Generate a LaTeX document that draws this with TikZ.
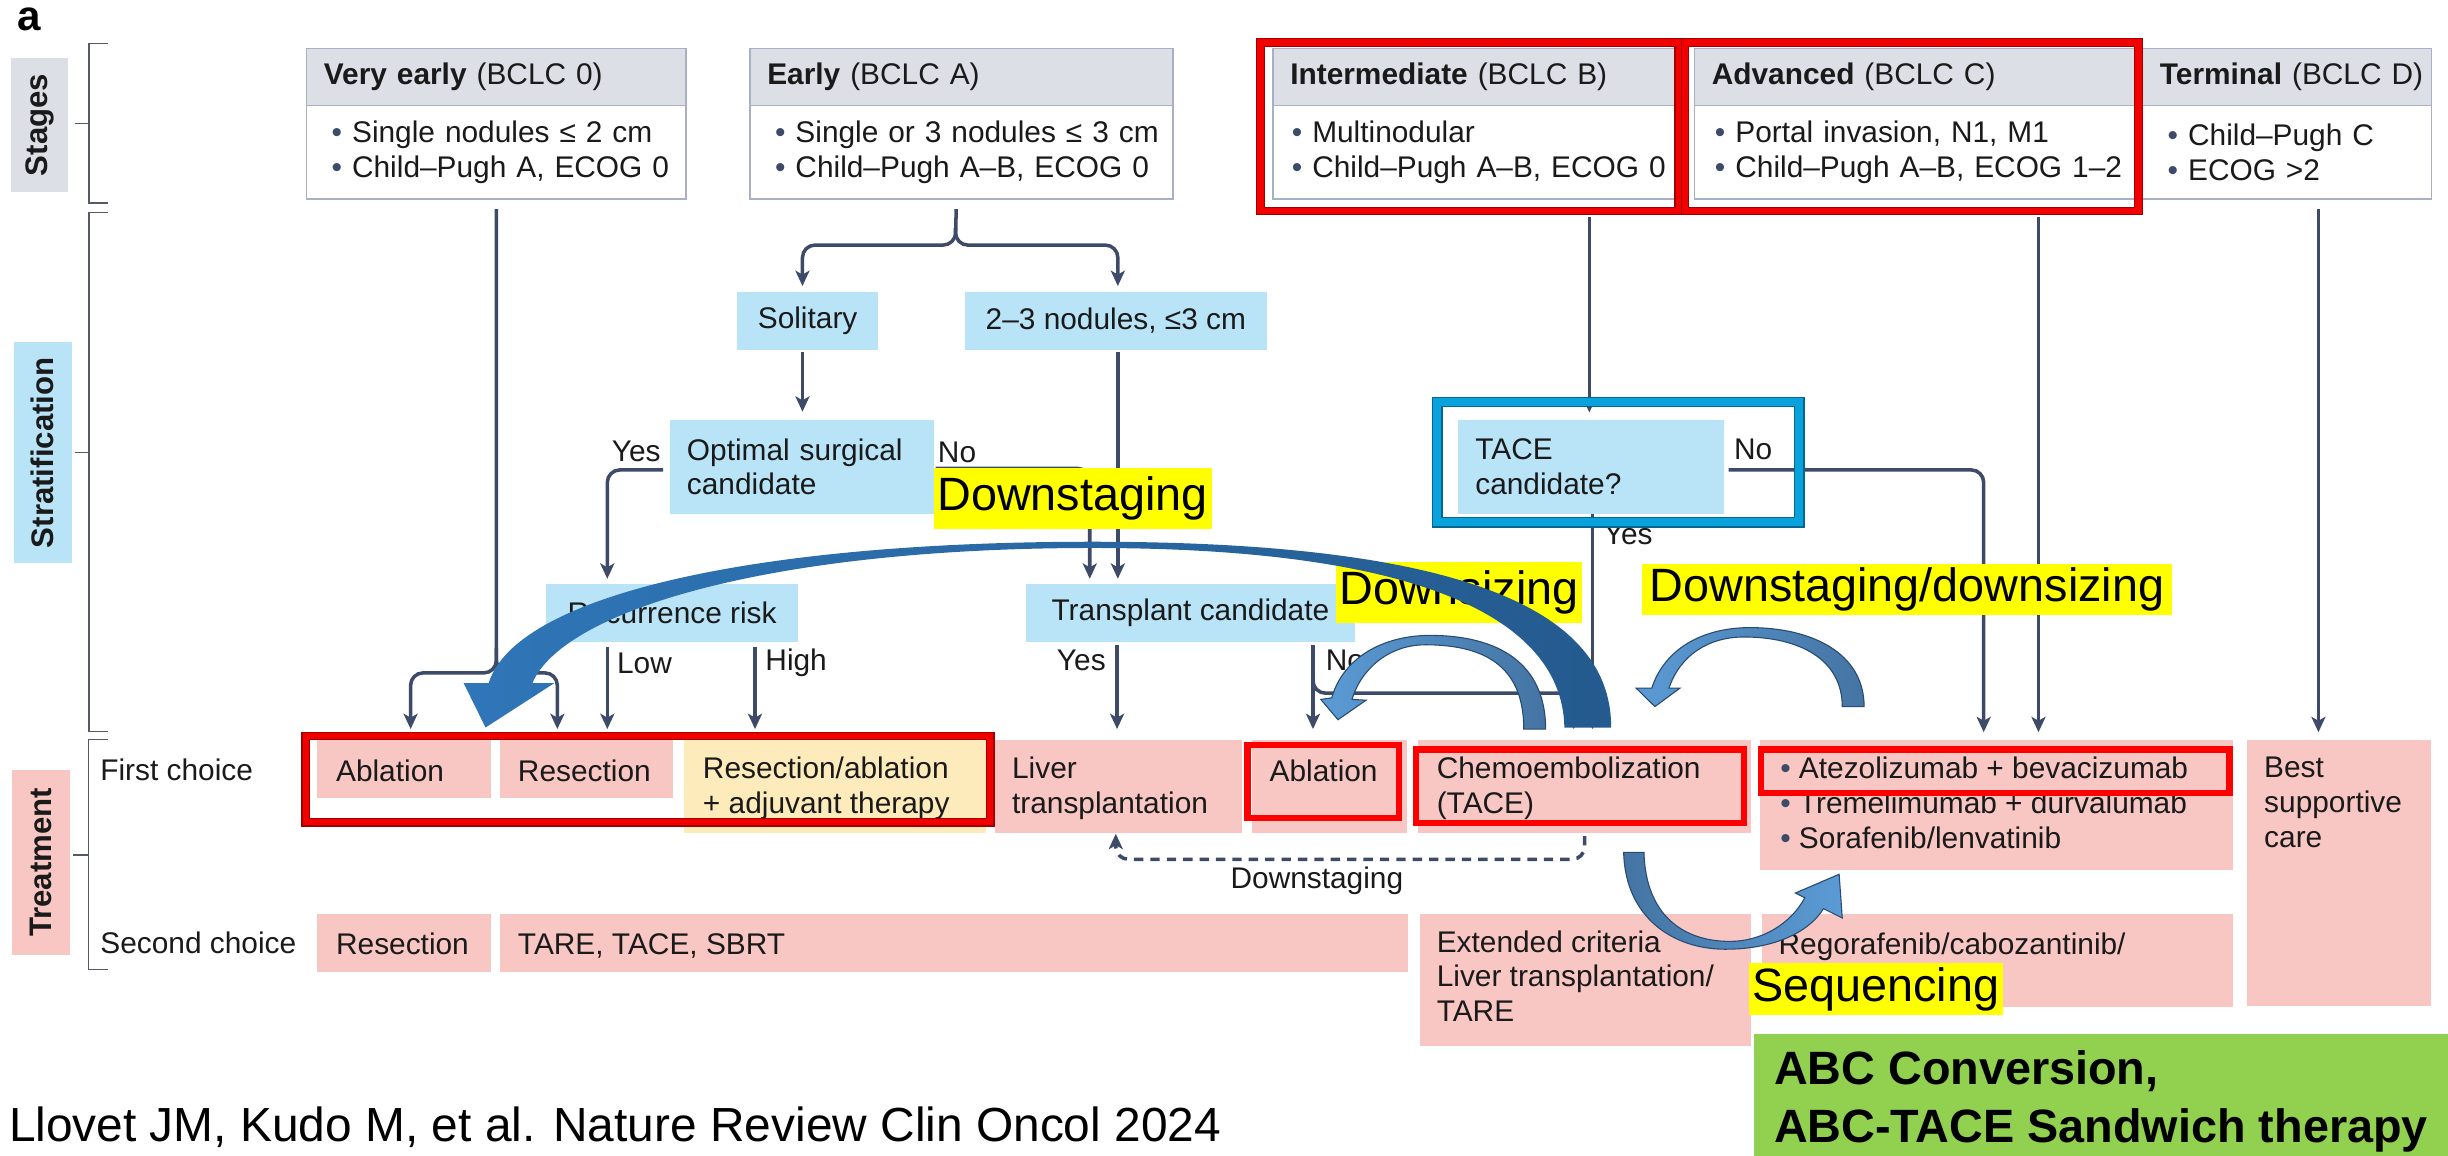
\documentclass[tikz,border=0pt]{standalone}
\usepackage{fontspec}
\setmainfont{Liberation Sans}
\usetikzlibrary{arrows.meta}

\newlength\U
\setlength\U{0.025cm}

\definecolor{lineC}{HTML}{3D4B68}
\definecolor{stHead}{HTML}{DCDFE6}
\definecolor{stEdge}{HTML}{A9B0C6}
\definecolor{stratC}{HTML}{B9E4F8}
\definecolor{pinkC}{HTML}{F8C7C3}
\definecolor{adjC}{HTML}{FDEBBB}
\definecolor{frameRed}{HTML}{F20000}
\definecolor{frameDark}{HTML}{A00000}
\definecolor{tacBlue}{HTML}{0AA2DC}
\definecolor{tacDark}{HTML}{03678F}
\definecolor{hiYel}{HTML}{FFFF00}
\definecolor{greenC}{HTML}{92D050}
\definecolor{bigL}{HTML}{2F76B8}
\definecolor{bigR}{HTML}{245A8E}
\definecolor{smL}{HTML}{5B9BD5}
\definecolor{smR}{HTML}{4474A3}
\definecolor{smEdge}{HTML}{2A4B70}
\definecolor{txtC}{HTML}{1A1A1A}
\definecolor{brkC}{HTML}{555A66}

\newcommand\tfont{\fontsize{13.6pt}{15.9pt}\selectfont}
\newcommand\hlfont{\fontsize{21.3pt}{25pt}\selectfont}
\newcommand\sidefont{\fontsize{14.2pt}{16pt}\selectfont\bfseries}
\newcommand\citefont{\fontsize{21.8pt}{26pt}\selectfont}
\newcommand\abcfont{\fontsize{21.3pt}{26.3pt}\selectfont\bfseries}
\newcommand\panelfont{\fontsize{19.2pt}{22pt}\selectfont\bfseries}
\newcommand\bul{\textcolor{lineC}{\textbullet}\ }
% one unbreakable line inside a fixed-width box
\newcommand\oneline[1]{\mbox{#1}}

\begin{document}
\begin{tikzpicture}[x=0.025cm, y=-0.025cm,
  every node/.style={font=\tfont, text=txtC},
  sidelab/.style={font=\sidefont, rotate=90, inner sep=0, text=txtC},
  brk/.style={draw=brkC, line width=0.9\U},
  stH/.style={anchor=north west, draw=stEdge, line width=0.9\U, fill=stHead,
    minimum height=36.5\U, inner xsep=11\U, inner ysep=0, align=left},
  stB/.style={anchor=north west, draw=stEdge, line width=0.9\U, fill=white,
    minimum height=60\U, inner xsep=16\U, inner ysep=0, align=left},
  strat/.style={fill=stratC, inner sep=0, minimum height=37\U},
  trbox/.style={anchor=north west, fill=pinkC, inner sep=0},
  ttext/.style={anchor=north west, inner sep=0, align=left, execute at begin node=\strut},
  lab/.style={inner sep=0},
  conn/.style={draw=lineC, line width=1.6pt, rounded corners=8\U,
    -{Stealth[length=7pt, width=6.4pt, inset=1.8pt]}},
  dconn/.style={conn, dash pattern=on 6\U off 4.5\U},
  bevel/.style={draw=frameDark, line width=0.8\U, double=frameRed, double distance=4\U},
  flatred/.style={draw=red, line width=4\U},
  tacframe/.style={draw=tacDark, line width=1\U, double=tacBlue, double distance=5\U},
  hl/.style={fill=hiYel, inner sep=0, font=\hlfont, text=black},
  sarrow/.style={draw=smEdge, line width=0.7\U}
]
\useasboundingbox (0,0) rectangle (1568,740);

% panel letter
\node[font=\panelfont, inner sep=0, text=black] (panel) at (18.5,12.5) {a};

% row captions and brackets
\node[sidelab, fill=stHead, minimum width=86\U, minimum height=36.5\U] (sideS) at (25.3,80) {Stages};
\node[sidelab, fill=stratC, minimum width=141.6\U, minimum height=37\U] (sideR) at (27.3,290) {Stratification};
\node[sidelab, fill=pinkC, minimum width=118.7\U, minimum height=37\U] (sideT) at (26.5,552.4) {Treatment};

\draw[brk] (69,27.8) -- (57,27.8) -- (57,130) -- (69,130);
\draw[brk] (48,79) -- (57,79);
\draw[brk] (69,136) -- (57,136) -- (57,468.7) -- (69,468.7);
\draw[brk] (48,290) -- (57,290);
\draw[brk] (69,473.6) -- (56.5,473.6) -- (56.5,621) -- (69,621);
\draw[brk] (47,547.6) -- (56.5,547.6);

% stages
\node[stH, text width=221\U] (veH) at (196,30.5) {\oneline{\textbf{Very early} (BCLC 0)}};
\node[stB, text width=211\U] (ve) at (196,67) {\oneline{\bul Single nodules ≤ 2 cm}\\\oneline{\bul Child–Pugh A, ECOG 0}};
\node[stH, text width=249\U] (eaH) at (480,30.5) {\oneline{\textbf{Early} (BCLC A)}};
\node[stB, text width=239\U] (ea) at (480,67) {\oneline{\bul Single or 3 nodules ≤ 3 cm}\\\oneline{\bul Child–Pugh A–B, ECOG 0}};
\node[stH, text width=236\U] (imH) at (815,30.5) {\oneline{\textbf{Intermediate} (BCLC B)}};
\node[stB, text width=234\U, inner xsep=12\U] (im) at (815,67) {\oneline{\bul Multinodular}\\\oneline{\bul Child–Pugh A–B, ECOG 0}};
\node[stH, text width=265\U] (adH) at (1085,30.5) {\oneline{\textbf{Advanced} (BCLC C)}};
\node[stB, text width=261\U, inner xsep=13\U] (ad) at (1085,67) {\oneline{\bul Portal invasion, N1, M1}\\\oneline{\bul Child–Pugh A–B, ECOG 1–2}};
\node[stH, text width=163\U] (teH) at (1372,30.5) {\oneline{\textbf{Terminal} (BCLC D)}};
\node[stB, text width=153\U] (te) at (1372,67) {\oneline{\bul Child–Pugh C}\\\oneline{\bul ECOG >2}};

% stratification
\node[strat, minimum width=90.6\U] (sol) at (517.3,205.5) {Solitary};
\node[strat, minimum width=193.5\U] (nod) at (714.75,205.5) {2–3 nodules, ≤3 cm};
\node[strat, minimum height=60\U, text width=147\U, inner xsep=11\U, align=left] (opt) at (513.5,299) {Optimal surgical\\candidate};
\node[strat, minimum width=161\U] (rec) at (430.5,392.5) {Recurrence risk};
\node[strat, minimum width=211\U] (trc) at (762.5,392.5) {Transplant candidate};
\node[strat, minimum height=60\U, text width=148\U, inner xsep=11\U, align=left] (tac) at (1019,299) {TACE\\candidate?};

% treatment boxes
\node[trbox, minimum width=111\U, minimum height=37\U] (abl1) at (203,474) {};
\node[trbox, minimum width=111\U, minimum height=37\U] (res1) at (320,474) {};
\node[trbox, fill=adjC, minimum width=193\U, minimum height=59\U] (ra) at (438,474) {};
\node[trbox, minimum width=158.5\U, minimum height=59\U] (lt) at (637,474) {};
\node[trbox, minimum width=99.5\U, minimum height=59\U] (abl2) at (801.5,474) {};
\node[trbox, minimum width=213\U, minimum height=59\U] (tace) at (908,474) {};
\node[trbox, minimum width=303\U, minimum height=83\U] (atz) at (1127,474) {};
\node[trbox, minimum width=118\U, minimum height=170\U] (bsc) at (1439,474) {};
\node[trbox, minimum width=111\U, minimum height=37\U] (res2) at (203,585) {};
\node[trbox, minimum width=581.5\U, minimum height=37\U] (tare) at (320,585) {};
\node[trbox, minimum width=212.5\U, minimum height=84.5\U] (ext) at (909,585) {};
\node[trbox, minimum width=302\U, minimum height=59.5\U] (reg) at (1128,585) {};

\node[ttext] at ([shift={(12\U,-10.7\U)}]abl1.north west) {Ablation};
\node[ttext] at ([shift={(11.5\U,-10.7\U)}]res1.north west) {Resection};
\node[ttext] at ([shift={(12\U,-10.7\U)}]ra.north west) {Resection/ablation\\+ adjuvant therapy};
\node[ttext] at ([shift={(11\U,-10.7\U)}]lt.north west) {Liver\\transplantation};
\node[ttext] at ([shift={(11.5\U,-10.7\U)}]abl2.north west) {Ablation};
\node[ttext] at ([shift={(12\U,-10.7\U)}]tace.north west) {Chemoembolization\\(TACE)};
\node[ttext] at ([shift={(13\U,-10.7\U)}]atz.north west) {\bul Atezolizumab + bevacizumab\\\bul Tremelimumab + durvalumab\\\bul Sorafenib/lenvatinib};
\node[ttext] at ([shift={(11\U,-10.7\U)}]bsc.north west) {Best\\supportive\\care};
\node[ttext] at ([shift={(12\U,-10.7\U)}]res2.north west) {Resection};
\node[ttext] at ([shift={(11.5\U,-10.7\U)}]tare.north west) {TARE, TACE, SBRT};
\node[ttext] at ([shift={(11\U,-10.7\U)}]ext.north west) {Extended criteria\\Liver transplantation/\\TARE};
\node[ttext] at ([shift={(11\U,-10.7\U)}]reg.north west) {Regorafenib/cabozantinib/};

\node[lab, anchor=west] (fc) at (64,493.4) {First choice};
\node[lab, anchor=west] (sc) at (64,604) {Second choice};

% connectors
\draw[conn, shorten >=7\U] ([yshift=-6\U]ve.south) -- (ve.south |- 0,431) -- (263,431) -- (263,0 |- abl1.north);
\draw[conn, shorten >=7\U] (ve.south |- 0,415) -- (ve.south |- 0,431) -- (357,431) -- (357,0 |- res1.north);
\draw[conn, shorten >=3.5\U] ([xshift=-3.5\U,yshift=-6\U]ea.south) -- (612,157) -- (514,157) -- (514,0 |- sol.north);
\draw[conn, shorten >=3.5\U] (612,146) -- (612,157) -- (716,157) -- (716,0 |- nod.north);
\draw[conn, shorten <=1\U, shorten >=5\U] (514,0 |- sol.south) -- (514,0 |- opt.north);
\draw[conn, shorten >=3\U] ([xshift=-4\U,yshift=-2\U]opt.west) -- (389,301) -- (389,0 |- rec.north);
\draw[conn, shorten >=3\U] ([xshift=1\U,yshift=-1\U]opt.east) -- (698,300) -- (698,0 |- trc.north);
\draw[conn, shorten <=1\U, shorten >=3\U] (716,0 |- nod.south) -- (716,0 |- trc.north);
\draw[conn, shorten <=3\U, shorten >=7\U] (389,0 |- rec.south) -- (389,0 |- res1.north);
\draw[conn, shorten <=3\U, shorten >=7\U] (483.6,0 |- rec.south) -- (483.6,0 |- ra.north);
\draw[conn, shorten <=2\U, shorten >=7\U] (715.5,0 |- trc.south) -- (715.5,0 |- lt.north);
\draw[conn, shorten <=2\U, shorten >=7\U] (841,0 |- trc.south) -- (841,0 |- abl2.north);
\draw[conn, shorten >=7\U] (841,430) -- (841,444) -- (1008,444) -- (1008,0 |- tace.north);
\draw[conn, shorten <=11\U, shorten >=4.5\U] (1018,0 |- im.south) -- (1018,0 |- tac.north);
\draw[conn, shorten >=7\U] (1020,0 |- tac.south) -- (1020,0 |- tace.north);
\draw[conn, shorten >=5\U] ([xshift=3\U,yshift=-2\U]tac.east) -- (1270.6,301) -- (1270.6,0 |- atz.north);
\draw[conn, shorten <=11\U, shorten >=5\U] (1305.7,0 |- ad.south) -- (1305.7,0 |- atz.north);
\draw[conn, shorten <=6\U, shorten >=5\U] (1485,0 |- te.south) -- (1485,0 |- bsc.north);
\draw[dconn, shorten <=2\U, shorten >=0.5\U] (1015,0 |- tace.south) -- (1015,550.4) -- (714.7,550.4) -- (714.7,0 |- lt.south);

% branch labels
\node[lab] at (407.5,289) {Yes};
\node[lab] at (613,289.5) {No};
\node[lab, anchor=west] at (395,424.8) {Low};
\node[lab, anchor=west] at (490,424.8) {High};
\node[lab, anchor=east] at (708.5,423) {Yes};
\node[lab, anchor=west] at (849,423) {No};
\node[lab, anchor=west] at (1110.5,288) {No};
\node[lab, anchor=west] at (1027,342) {Yes};
\node[lab] at (843.5,564) {Downstaging};

% highlight frames
\draw[bevel] (807.3,27.3) rectangle (1075.2,135.2);
\draw[bevel] (1079.3,27.3) rectangle (1369.8,135.2);
\draw[bevel] (195.8,471.5) rectangle (634.2,526.7);
\draw[flatred] (799,477) rectangle (896,524);
\draw[flatred] (907,480) rectangle (1117,527);
\draw[flatred] (1128,480) rectangle (1428,508);
\draw[tacframe] (920.5,257.5) rectangle (1152.5,334.5);

% yellow strategy labels
\node[hl, minimum width=178\U, minimum height=39\U] (hDs) at (687,319.5) {Downstaging};
\node[hl, minimum width=157\U, minimum height=39\U] (hDz) at (934.5,379.5) {Downsizing};
\node[hl, minimum width=339\U, minimum height=33\U] (hDd) at (1221.5,377.5) {Downstaging/downsizing};
\node[hl, minimum width=163\U, minimum height=33\U] (hSq) at (1201.5,633.5) {Sequencing};

% conversion box and citation
\node[fill=greenC, inner sep=0, anchor=north west, minimum width=445\U, minimum height=78\U] (abc) at (1123,662) {};
\node[anchor=west, inner sep=0, align=left, font=\abcfont, text=black] (abcT) at (1136,705.5) {ABC Conversion,\\ABC-TACE Sandwich therapy};
\node[anchor=west, inner sep=0, font=\citefont, text=black] (cite) at (5.5,722) {Llovet JM, Kudo M, et al. Nature Review Clin Oncol 2024};

% large downstaging arrow: TACE back to curative ablation
\shade[left color=bigL, right color=bigR]
  (1032,466) .. controls (1032,400) and (960,347) .. (700,347)
  .. controls (480,347) and (330,382) .. (313,437.6)
  -- (297,437.6) -- (311,466) -- (355,437.6) -- (341,437.6)
  .. controls (360,392) and (490,351) .. (700,351)
  .. controls (930,351) and (1001,405) .. (1002,466) -- cycle;

% downsizing: TACE to ablation
\shadedraw[sarrow, left color=smL, right color=smR]
  (990,467) .. controls (990,425) and (960,407) .. (916,407)
  .. controls (885,407) and (860,422) .. (853,447)
  -- (846,448) -- (857,461) -- (875,448.5) -- (866,448)
  .. controls (872,428) and (890,413) .. (913,413)
  .. controls (955,413) and (976,430) .. (976,467) -- cycle;

% downstaging/downsizing: systemic therapy to TACE
\shadedraw[sarrow, left color=smL, right color=smR]
  (1194,452.6) .. controls (1194,418) and (1160,402) .. (1121,402)
  .. controls (1090,402) and (1066,416) .. (1058,440.8)
  -- (1048,440.8) -- (1060,452.6) -- (1076,440.8) -- (1069,440.8)
  .. controls (1076,420) and (1094,408) .. (1117,408)
  .. controls (1152,408) and (1180,422) .. (1180,452.6) -- cycle;

% sequencing: TACE to systemic therapy
\shadedraw[sarrow, left color=smR, right color=smL]
  (1040,546) .. controls (1041,588) and (1072,608) .. (1105,608)
  .. controls (1135,608) and (1158,598) .. (1168,582)
  -- (1180,588) -- (1178,560) -- (1150,572) -- (1156,575)
  .. controls (1147,592) and (1128,603) .. (1108,603)
  .. controls (1078,603) and (1054,586) .. (1053,546) -- cycle;

\end{tikzpicture}
\end{document}
